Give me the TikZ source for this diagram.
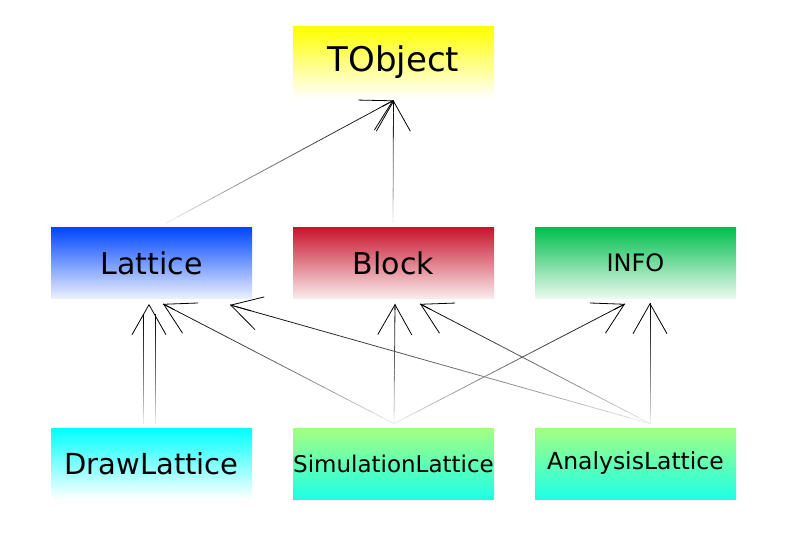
\documentclass[tikz,border=0pt]{standalone}
\usepackage{fontspec}
\setmainfont{DejaVu Sans}
\usepackage{tikz}
\usetikzlibrary{arrows.meta,positioning,calc}

% faded line, pale at the start and black at the end
\newcommand{\fadeline}[2]{%
  \foreach \k in {0,...,19}{%
    \pgfmathtruncatemacro{\g}{100*((\k+1)/20)^0.8}%
    \draw[black!\g] ($(#1)!{\k/20}!(#2)$) -- ($(#1)!{(\k+1)/20}!(#2)$);
  }}
\newcommand{\fadearrow}[2]{%
  \fadeline{#1}{#2}%
  \draw[barb] ($(#1)!0.95!(#2)$) -- (#2);}

\begin{document}
\begin{tikzpicture}[x=1pt,y=-1pt,node distance=200.5pt,on grid,line width=0.8pt]
\tikzstyle{cls} = [rectangle,minimum width=201pt,minimum height=71pt,inner sep=0pt]
\tikzset{barb/.style={-{Straight Barb[length=30pt,width=34pt]}}}
\useasboundingbox (0,0) rectangle (793,535);

    \node[cls,top color={rgb,255:red,255;green,255;blue,0},bottom color=white,font=\fontsize{34}{40}\selectfont] (tobj) at (393.5,62.5) {TObject};
    \node[cls,top color={rgb,255:red,200;green,20;blue,45},bottom color={rgb,255:red,250;green,236;blue,238},font=\fontsize{30}{36}\selectfont] (block) [below=of tobj] {Block};
    \node[cls,top color={rgb,255:red,0;green,70;blue,255},bottom color={rgb,255:red,236;green,240;blue,255},font=\fontsize{30}{36}\selectfont] (lat) [left=242pt of block] {Lattice};
    \node[cls,top color={rgb,255:red,0;green,190;blue,80},bottom color={rgb,255:red,236;green,250;blue,240},font=\fontsize{24}{30}\selectfont] (info) [right=242pt of block] {INFO};
    \node[cls,top color={rgb,255:red,0;green,255;blue,255},bottom color=white,font=\fontsize{29}{34}\selectfont] (draw) [below=of lat] {DrawLattice};
    \node[cls,top color={rgb,255:red,165;green,255;blue,130},bottom color={rgb,255:red,30;green,255;blue,230},font=\fontsize{23}{28}\selectfont] (sim) [below=of block] {SimulationLattice};
    \node[cls,top color={rgb,255:red,165;green,255;blue,130},bottom color={rgb,255:red,30;green,255;blue,230},font=\fontsize{23.5}{28}\selectfont] (ana) [below=of info] {AnalysisLattice};

    % end points of the connectors
    \coordinate (tobjbot) at ($(tobj.south)+(0,2)$);
    \coordinate (lattop) at ($(lat.north)+(14.5,-4)$);
    \coordinate (blocktop) at ($(block.north)+(-0.5,-4)$);
    \coordinate (drawtopa) at ($(draw.north)+(-8.5,-4)$);
    \coordinate (drawtopb) at ($(draw.north)+(3.5,-4)$);
    \coordinate (simtop) at ($(sim.north)+(0.5,-4)$);
    \coordinate (anatop) at ($(ana.north)+(14.5,-4)$);
    \coordinate (latbota) at ($(lat.south)+(-8.5,15)$);
    \coordinate (latbotb) at ($(lat.south)+(3.5,15)$);
    \coordinate (latbot) at ($(lat.south)+(-2.5,5)$);
    \coordinate (latsim) at ($(lat.south)+(11.5,5)$);
    \coordinate (latana) at ($(lat.south)+(78.5,6)$);
    \coordinate (blocksim) at ($(block.south)+(1.5,5)$);
    \coordinate (blockana) at ($(block.south)+(26.5,5)$);
    \coordinate (infosim) at ($(info.south)+(-10.5,5)$);
    \coordinate (infoana) at ($(info.south)+(14.5,4)$);

    \fadearrow{lattop}{tobjbot}
    \fadearrow{blocktop}{tobjbot}

    \fadeline{drawtopa}{latbota}
    \fadeline{drawtopb}{latbotb}
    \draw[barb] ($(latbot)+(0,1)$) -- (latbot);

    \fadearrow{simtop}{latsim}
    \fadearrow{simtop}{blocksim}
    \fadearrow{simtop}{infosim}
    \fadearrow{anatop}{latana}
    \fadearrow{anatop}{blockana}
    \fadearrow{anatop}{infoana}
\end{tikzpicture}
\end{document}
